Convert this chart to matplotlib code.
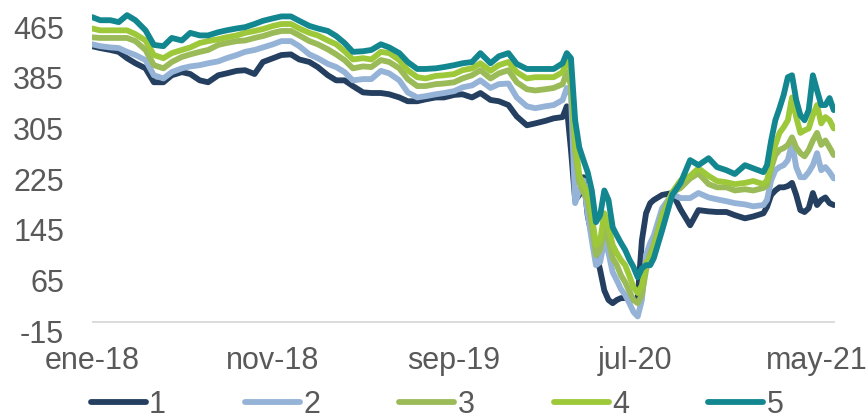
import numpy as np
import pandas as pd
import matplotlib
matplotlib.use("Agg")
import matplotlib.pyplot as plt

plt.rcParams['font.family'] = ['Liberation Sans', 'DejaVu Sans']
plt.rcParams['axes.unicode_minus'] = False  # excel writes "-15" with a plain hyphen

## DATA ##
# semi-monthly points, weekly where the series move fast (covid drop, early 2021)
dates = (pd.date_range('2018-01-01', '2020-02-15', freq='SMS')
         .append(pd.date_range('2020-03-01', '2020-07-26', freq='W'))
         .append(pd.date_range('2020-08-01', '2021-02-01', freq='SMS'))
         .append(pd.date_range('2021-02-07', '2021-05-30', freq='W')))

s1 = [435, 432, 429, 426, 416, 408, 400, 378, 378, 389, 394, 391, 381, 378, 389, 392, 396, 397, 391, 410,
      416, 421, 422, 414, 410, 402, 389, 381, 381, 372, 362, 361, 361, 359, 354, 348, 348, 351, 354, 354,
      358, 359, 354, 361, 350, 348, 342, 324, 310, 313, 317, 321,
      323, 340, 271, 192, 200, 228, 168, 136, 110, 81, 49, 34, 29, 34, 37, 37, 37, 34, 37, 128, 171, 187,
      192, 200, 203, 177, 152, 176, 174, 173, 173, 168, 163, 166, 171,
      181, 200, 207, 212, 212, 214, 219, 200, 176, 173, 179, 203, 184, 192, 196, 187, 184]
s2 = [438, 435, 433, 432, 426, 421, 413, 389, 384, 394, 400, 403, 405, 408, 411, 416, 421, 426, 429, 433,
      438, 443, 443, 435, 422, 416, 407, 402, 394, 381, 383, 383, 396, 392, 381, 362, 354, 356, 359, 361,
      364, 370, 373, 381, 369, 375, 376, 354, 340, 337, 340, 342,
      350, 369, 358, 187, 207, 223, 171, 128, 89, 94, 128, 108, 78, 65, 51, 42, 29, 15, 8, 34, 105, 124,
      136, 179, 201, 195, 195, 203, 196, 193, 190, 187, 185, 182, 184,
      192, 223, 239, 244, 247, 255, 282, 244, 228, 228, 236, 247, 266, 239, 244, 236, 226]
s3 = [449, 448, 448, 448, 448, 443, 429, 405, 400, 410, 418, 422, 426, 429, 437, 440, 443, 444, 448, 451,
      456, 459, 459, 452, 443, 438, 430, 422, 413, 400, 403, 402, 413, 410, 400, 383, 372, 372, 375, 376,
      378, 384, 389, 397, 384, 392, 397, 378, 367, 365, 367, 369,
      375, 394, 373, 271, 219, 204, 192, 152, 105, 113, 149, 128, 100, 89, 73, 62, 48, 34, 29, 42, 81, 108,
      121, 168, 204, 211, 226, 234, 217, 212, 212, 207, 209, 207, 211,
      215, 242, 263, 271, 274, 279, 291, 275, 266, 261, 271, 286, 298, 279, 286, 275, 263]
s4 = [463, 460, 460, 460, 460, 454, 444, 421, 416, 424, 429, 433, 440, 443, 446, 449, 452, 456, 459, 462,
      467, 470, 470, 463, 456, 452, 444, 438, 427, 414, 416, 414, 426, 424, 413, 397, 386, 384, 388, 389,
      391, 397, 400, 408, 396, 405, 410, 394, 384, 386, 386, 386,
      394, 413, 397, 286, 231, 215, 203, 168, 121, 128, 171, 149, 121, 108, 97, 89, 72, 54, 45, 57, 92, 102,
      113, 165, 204, 223, 230, 242, 230, 222, 220, 217, 219, 222, 217,
      223, 250, 279, 298, 307, 318, 354, 323, 298, 302, 305, 326, 342, 313, 323, 318, 305]
s5 = [481, 476, 476, 473, 484, 476, 460, 437, 435, 448, 444, 456, 452, 452, 457, 460, 463, 465, 470, 475,
      479, 482, 482, 475, 467, 463, 459, 451, 440, 426, 427, 429, 438, 433, 424, 410, 399, 399, 400, 402,
      405, 408, 410, 424, 408, 419, 424, 407, 399, 399, 399, 399,
      408, 424, 416, 318, 275, 255, 236, 207, 157, 168, 207, 192, 149, 136, 124, 113, 98, 86, 70, 84, 89, 89,
      100, 144, 200, 219, 255, 247, 258, 244, 239, 233, 247, 242, 236,
      247, 286, 318, 337, 358, 386, 389, 350, 326, 318, 334, 389, 365, 342, 342, 353, 334]

series = [s1, s2, s3, s4, s5]
labels = ['1', '2', '3', '4', '5']
colors = ['#243f60', '#95b3d7', '#9bbb59', '#9dc83a', '#12878f']

yticks = [-15, 65, 145, 225, 305, 385, 465]
xtick_dates = ['2018-01-01', '2018-11-01', '2019-09-01', '2020-07-01', '2021-05-01']
xtick_labels = ['ene-18', 'nov-18', 'sep-19', 'jul-20', 'may-21']

## PLOT ##
fig = plt.figure(figsize=(8.67, 4.19), dpi=100)
ax = fig.add_axes([0.106, 0.21, 0.857, 0.778])

ax.axhline(0, color='#d9d9d9', lw=1.3, zorder=0.5)
for vals, lab, col in zip(series, labels, colors):
    ax.plot(dates, vals, color=col, lw=4.2, label=lab,
            solid_capstyle='round', solid_joinstyle='round')

ax.set_ylim(-15, 500)
ax.set_xlim(pd.Timestamp('2018-01-01'), pd.Timestamp('2021-06-01'))
ax.set_yticks(yticks)
ax.set_xticks(pd.to_datetime(xtick_dates))
ax.set_xticklabels(xtick_labels)
for s in ax.spines.values():
    s.set_visible(False)
ax.tick_params(axis='y', length=0, pad=20, labelsize=22, labelcolor='#595959')
ax.tick_params(axis='x', length=0, pad=11, labelsize=22, labelcolor='#595959')

fig.legend(loc='center', bbox_to_anchor=(0.504, 0.033), ncol=5, frameon=False,
           fontsize=22, handlelength=1.8, handletextpad=0.1, columnspacing=2.6,
           borderpad=0, labelcolor='#595959')

fig.savefig('out.png', dpi=100)
